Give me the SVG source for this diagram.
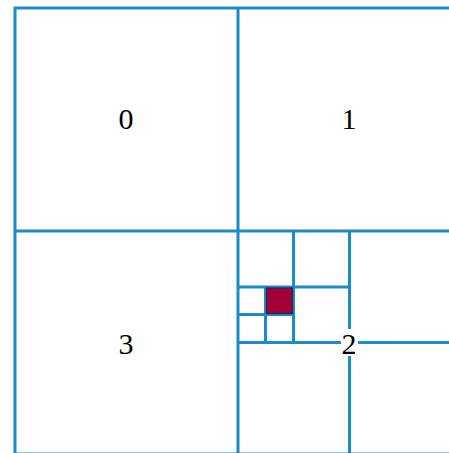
<svg xmlns="http://www.w3.org/2000/svg" width="449" height="453" viewBox="0 0 449 453">
<style>
.ln{stroke:#1a8cc6;stroke-width:3;fill:none}
text{font-family:'Liberation Serif','DejaVu Serif',serif;font-size:30px;fill:#000;text-anchor:middle}
</style>
<rect width="449" height="453" fill="#fff"/>
<g id="connectors">
<rect class="ln" x="15" y="8" width="446" height="446"/>
<line class="ln" x1="238" y1="8" x2="238" y2="454"/>
<line class="ln" x1="15" y1="231" x2="461" y2="231"/>
<line class="ln" x1="349.5" y1="231" x2="349.5" y2="454"/>
<line class="ln" x1="238" y1="342.5" x2="461" y2="342.5"/>
<line class="ln" x1="293.5" y1="231" x2="293.5" y2="342.5"/>
<line class="ln" x1="238" y1="287" x2="349.5" y2="287"/>
<line class="ln" x1="265.5" y1="287" x2="265.5" y2="342.5"/>
<line class="ln" x1="238" y1="314.5" x2="293.5" y2="314.5"/>
</g>
<g id="cell">
<rect x="266.5" y="288" width="26" height="25.5" fill="#a3003a" stroke="#1e2a55" stroke-width="1.2"/>
</g>
<g id="q0"><text font-family="Liberation Serif, serif" x="126" y="128.5">0</text></g>
<g id="q1"><text font-family="Liberation Serif, serif" x="349" y="129">1</text></g>
<g id="q3"><text font-family="Liberation Serif, serif" x="126" y="354">3</text></g>
<g id="q2">
<rect x="341" y="329" width="17" height="27" fill="#fff"/>
<text font-family="Liberation Serif, serif" x="349" y="354">2</text>
</g>
</svg>
